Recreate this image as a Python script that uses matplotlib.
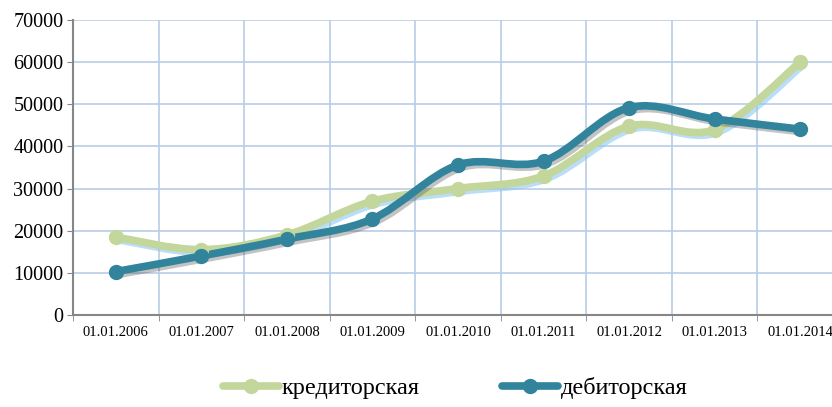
import numpy as np
import matplotlib
matplotlib.use("Agg")
import matplotlib.pyplot as plt
import matplotlib.patheffects as pe
from matplotlib.path import Path
from matplotlib.patches import PathPatch
from matplotlib.lines import Line2D

plt.rcParams["font.family"] = ["Liberation Serif", "DejaVu Serif"]

dates = ["01.01.2006", "01.01.2007", "01.01.2008", "01.01.2009", "01.01.2010",
         "01.01.2011", "01.01.2012", "01.01.2013", "01.01.2014"]
kredit = [18500, 15500, 19000, 27000, 30000, 33000, 44800, 44000, 60000]
debit = [10300, 14000, 18000, 22800, 35600, 36500, 49200, 46500, 44100]

GREEN = "#c3d69b"
TEAL = "#31849b"
GRID = "#b9cde5"


def smooth_path(xs, ys):
    # Catmull-Rom style bezier through the data points (Excel "smoothed line")
    pts = np.column_stack([xs, ys]).astype(float)
    n = len(pts)
    verts = [pts[0]]
    codes = [Path.MOVETO]
    for i in range(n - 1):
        p0 = pts[i - 1] if i > 0 else pts[i]
        p1 = pts[i]
        p2 = pts[i + 1]
        p3 = pts[i + 2] if i + 2 < n else pts[i + 1]
        c1 = p1 + (p2 - p0) / 6.0
        c2 = p2 - (p3 - p1) / 6.0
        verts += [c1, c2, p2]
        codes += [Path.CURVE4] * 3
    return Path(verts, codes)


fig = plt.figure(figsize=(8.32, 4.07), dpi=100)
ax = fig.add_axes([73 / 832, 1 - 315 / 407, 770 / 832, 295 / 407])

x = np.arange(len(dates))

series = [
    (kredit, GREEN, "кредиторская", "#8cc8f2", 0.6),
    (debit, TEAL, "дебиторская", "#555555", 0.35),
]
for vals, col, lab, shcol, shalpha in series:
    effects = [pe.SimpleLineShadow(offset=(2, -2), shadow_color=shcol, alpha=shalpha),
               pe.Normal()]
    patch = PathPatch(smooth_path(x, vals), facecolor="none", edgecolor=col,
                      linewidth=5.5, capstyle="round", joinstyle="round", zorder=3)
    patch.set_path_effects(effects)
    ax.add_patch(patch)
    ax.plot(x, vals, linestyle="none", marker="o", markersize=10, color=col, zorder=4)

ax.set_xlim(-0.5, len(dates) - 0.5)
ax.set_ylim(0, 70000)
ax.set_yticks(np.arange(0, 70001, 10000))
ax.set_yticklabels([str(v) for v in range(0, 70001, 10000)], fontsize=14.5)

ax.set_xticks(x)
ax.set_xticklabels(dates, fontsize=10.5)
ax.set_xticks(np.arange(-0.5, len(dates), 1.0), minor=True)
ax.tick_params(axis="x", which="major", length=0, pad=8)
ax.tick_params(axis="x", which="minor", length=4, color="#868686", direction="out")
ax.tick_params(axis="y", length=4, color="#868686", direction="out", pad=3)

ax.grid(True, which="minor", axis="x", color=GRID, linewidth=1.2)
ax.grid(True, which="major", axis="y", color=GRID, linewidth=1.2)
ax.set_axisbelow(True)

for s in ["top", "right"]:
    ax.spines[s].set_visible(False)
for s in ["left", "bottom"]:
    ax.spines[s].set_color("#868686")
    ax.spines[s].set_linewidth(1.5)

handles = [Line2D([0], [0], color=c, linewidth=5.5, marker="o", markersize=10,
                  solid_capstyle="round") for _, c, _, _, _ in series]
labels = [lab for _, _, lab, _, _ in series]
fig.legend(handles, labels, loc="center", bbox_to_anchor=(0.547, 1 - 388 / 407),
           ncol=2, frameon=False, fontsize=17.5, handlelength=2.3,
           handletextpad=0.1, columnspacing=3.4)

fig.savefig("out.png", dpi=100)
